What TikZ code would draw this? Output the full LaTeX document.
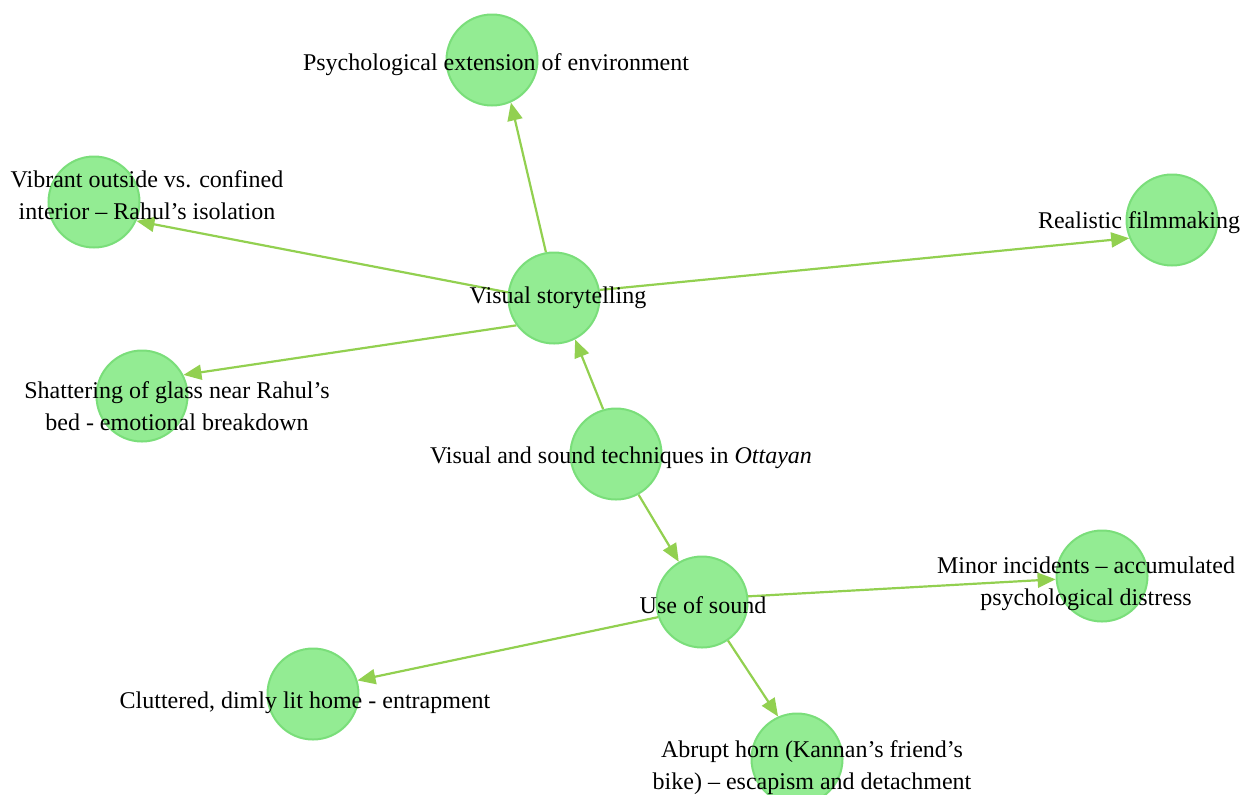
\documentclass[tikz,border=0pt]{standalone}
\usepackage{fontspec}
\setmainfont{Liberation Serif}
\usetikzlibrary{arrows.meta,backgrounds}

\definecolor{nodefill}{RGB}{147,236,147}
\definecolor{nodeline}{RGB}{122,222,122}
\definecolor{edgecol}{RGB}{146,208,80}

\tikzset{
  topic/.style={circle, fill=nodefill, draw=nodeline, line width=1pt, minimum size=45.5pt, inner sep=0pt},
  caption/.style={anchor=base, align=center, inner sep=0pt, font=\fontsize{12}{16}\selectfont},
  link/.style={draw=edgecol, line width=1.1pt, -{Triangle[length=9pt,width=7.5pt]}}
}

\begin{document}
\begin{tikzpicture}[x=0.5pt,y=-0.5pt]
%
  \useasboundingbox (0,0) rectangle (1241,794);
  \clip (0,0) rectangle (1241,794);

         \node [topic] (psy)  at (492,60)   {};
         \node [topic] (vib)  at (94,202)   {};
         \node [topic] (real) at (1172,220) {};
         \node [topic] (vst)  at (554,298)  {};
         \node [topic] (sha)  at (142,396)  {};
         \node [topic] (root) at (616,454)  {};
         \node [topic] (snd)  at (702,602)  {};
         \node [topic] (min)  at (1102,576) {};
         \node [topic] (clu)  at (313,694)  {};
         \node [topic] (abr)  at (797,759)  {};

       \begin{scope}[on background layer]
         \draw [link] (root.106) -- (vst.-63);
         \draw [link] (root.-61) -- (snd.120);
         \draw [link] (vst.100) -- (psy.-66);
         \draw [link] (vst.173) -- (vib.-24);
         \draw [link] (vst.10) -- (real.203);
         \draw [link] (vst.216) -- (sha.27);
         \draw [link] (snd.7) -- (min.184);
         \draw [link] (snd.199) -- (clu.17);
         \draw [link] (snd.-56) -- (abr.114);
       \end{scope}

         \node [caption] (psy-t)  at (496,70)   {Psychological extension of environment};
         \node [caption] (vib-t)  at (147,219)  {Vibrant outside vs. confined\\interior -- Rahul’s isolation};
         \node [caption] (real-t) at (1139,228) {Realistic filmmaking};
         \node [caption] (vst-t)  at (558,303)  {Visual storytelling};
         \node [caption] (sha-t)  at (177,430)  {Shattering of glass near Rahul’s\\bed - emotional breakdown};
         \node [caption] (root-t) at (621,463)  {Visual and sound techniques in \textit{Ottayan}};
         \node [caption] (snd-t)  at (703,613)  {Use of sound};
         \node [caption] (min-t)  at (1086,605) {Minor incidents -- accumulated\\psychological distress};
         \node [caption] (clu-t)  at (305,708)  {Cluttered, dimly lit home - entrapment};
         \node [caption] (abr-t)  at (812,789)  {Abrupt horn (Kannan’s friend’s\\bike) -- escapism and detachment};

\end{tikzpicture}
\end{document}
